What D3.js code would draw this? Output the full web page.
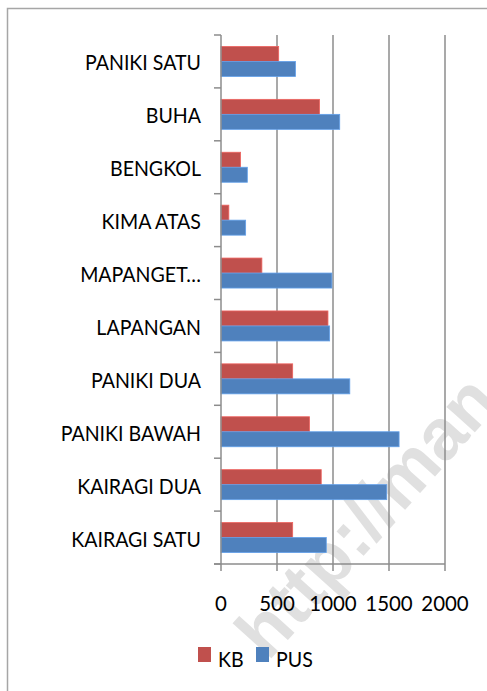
<!DOCTYPE html>
<html>
<head>
<meta charset="utf-8">
<script src="https://cdn.jsdelivr.net/npm/d3@7"></script>
<style>
  body { margin: 0; background: #fff; }
  svg { display: block; }
  text { font-family: Lato, "Open Sans", sans-serif; fill: #000; }
</style>
</head>
<body>
<div id="chart"></div>
<script>
/*** DATA ***/
var categories = ['PANIKI SATU', 'BUHA', 'BENGKOL', 'KIMA ATAS', 'MAPANGET…', 'LAPANGAN',
  'PANIKI DUA', 'PANIKI BAWAH', 'KAIRAGI DUA', 'KAIRAGI SATU'];
var kbValues  = [515, 880, 175, 70, 365, 955, 640, 790, 895, 640];
var pusValues = [665, 1060, 235, 220, 990, 970, 1150, 1590, 1480, 940];
var xTicks = [0, 500, 1000, 1500, 2000];
var seriesNames = ['KB', 'PUS'];
var seriesColors = ['#C0504D', '#4F81BD'];

var width = 487, height = 691;
var svg = d3.select('#chart').append('svg')
  .attr('width', width)
  .attr('height', height);

//watermark
svg.append('text')
  .attr('transform', 'translate(268,662) rotate(-48)')
  .style('font-family', 'Arial, "Liberation Sans", sans-serif')
  .style('font-weight', 'bold')
  .style('font-size', '72px')
  .style('fill', '#e0e0e0')
  .text('http://man');

//outer frame
svg.append('path')
  .attr('d', 'M7.5,' + height + 'V8.5H' + width)
  .attr('fill', 'none')
  .attr('stroke', '#a6a6a6')
  .attr('stroke-width', 1.5);

//scales
var x = d3.scaleLinear().domain([0, 2000]).range([221, 445]);
var y = d3.scaleBand().domain(categories).range([35, 564]);
var barH = 15;
var gridColor = '#8c8c8c';
var sx = 0.89; //horizontal squeeze of the text

//gridlines
svg.append('g').selectAll('line')
  .data(xTicks.slice(1))
  .enter().append('line')
  .attr('x1', d => x(d)).attr('x2', d => x(d))
  .attr('y1', 35).attr('y2', 571)
  .attr('stroke', gridColor)
  .attr('stroke-width', 1.5);

//bars
var rows = categories.map(function(c, i) {
  return { cat: c, values: [kbValues[i], pusValues[i]] };
});
var off = (y.bandwidth() - 2 * barH) / 2;
var gBars = svg.append('g');
rows.forEach(function(r) {
  r.values.forEach(function(v, s) {
    gBars.append('rect')
      .attr('x', x(0))
      .attr('y', y(r.cat) + off + s * barH)
      .attr('width', x(v) - x(0))
      .attr('height', barH)
      .attr('fill', seriesColors[s])
      .attr('stroke', d3.color(seriesColors[s]).brighter(0.6))
      .attr('stroke-width', 0.8);
  });
});

//y axis line + ticks
var yAxis = svg.append('g');
yAxis.append('line')
  .attr('x1', x(0)).attr('x2', x(0))
  .attr('y1', 35).attr('y2', 571)
  .attr('stroke', gridColor).attr('stroke-width', 1.5);
var boundaries = categories.map(c => y(c)).concat([564]);
yAxis.selectAll('.tick')
  .data(boundaries)
  .enter().append('line')
  .attr('x1', 214).attr('x2', x(0))
  .attr('y1', d => d).attr('y2', d => d)
  .attr('stroke', gridColor).attr('stroke-width', 1.5);

//category labels
yAxis.selectAll('.label')
  .data(categories)
  .enter().append('g')
  .attr('transform', d => 'translate(201,' + (y(d) + y.bandwidth() / 2 + 9) + ') scale(' + sx + ',1)')
  .append('text')
  .attr('text-anchor', 'end')
  .style('font-size', '22px')
  .text(d => d);

//x axis
var xAxis = svg.append('g');
xAxis.append('line')
  .attr('x1', 214).attr('x2', x(2000))
  .attr('y1', 564).attr('y2', 564)
  .attr('stroke', gridColor).attr('stroke-width', 1.5);
xAxis.selectAll('.xlabel')
  .data(xTicks)
  .enter().append('g')
  .attr('transform', d => 'translate(' + x(d) + ',611) scale(0.93,1)')
  .append('text')
  .attr('text-anchor', 'middle')
  .style('font-size', '22px')
  .text(d => d);

//legend
var legendX = [198, 256];
var legend = svg.append('g');
seriesNames.forEach(function(name, i) {
  legend.append('rect')
    .attr('x', legendX[i]).attr('y', 647)
    .attr('width', 13).attr('height', 15)
    .attr('fill', seriesColors[i]);
  legend.append('g')
    .attr('transform', 'translate(' + (legendX[i] + 20) + ',667) scale(' + sx + ',1)')
    .append('text')
    .style('font-size', '22px')
    .text(name);
});
</script>
</body>
</html>
